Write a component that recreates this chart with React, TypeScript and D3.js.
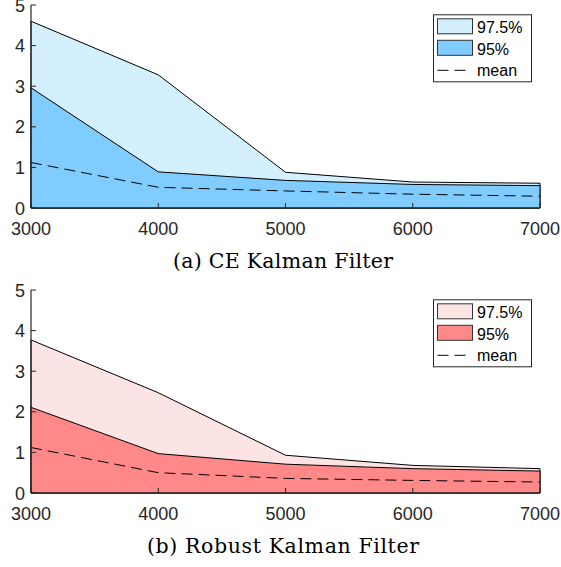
import * as d3 from "d3";

const sampleSizes = [3000, 4000, 5000, 6000, 7000];
const yTicks = [0, 1, 2, 3, 4, 5];
const legendLabels = ["97.5%", "95%", "mean"];

// CE Kalman filter
const ceUpper975 = [4.6, 3.28, 0.88, 0.64, 0.61];
const ceUpper95 = [2.96, 0.89, 0.68, 0.58, 0.55];
const ceMean = [1.12, 0.51, 0.42, 0.34, 0.29];

// Robust Kalman filter
const rkUpper975 = [3.77, 2.47, 0.93, 0.68, 0.6];
const rkUpper95 = [2.11, 0.97, 0.71, 0.6, 0.54];
const rkMean = [1.12, 0.5, 0.36, 0.31, 0.27];

const axisColor = "#262626";
const sans = "'Liberation Sans', Arial, sans-serif";
const serif = "'DejaVu Serif', 'Liberation Serif', serif";

interface PanelProps {
  top: number; // pixel y of value 5
  bottom: number; // pixel y of value 0
  hi: number[];
  mid: number[];
  mean: number[];
  light: string;
  dark: string;
  caption: string;
  captionY: number;
  captionWidth: number;
}

function Panel({ top, bottom, hi, mid, mean, light, dark, caption, captionY, captionWidth }: PanelProps) {
  const x = d3.scaleLinear().domain([3000, 7000]).range([31, 540]);
  const y = d3.scaleLinear().domain([0, 5]).range([bottom, top]);

  const area = d3
    .area<[number, number]>()
    .x(d => x(d[0]))
    .y0(y(0))
    .y1(d => y(d[1]));
  const line = d3
    .line<[number, number]>()
    .x(d => x(d[0]))
    .y(d => y(d[1]));

  const pts = (vals: number[]) => sampleSizes.map((s, i) => [s, vals[i]] as [number, number]);

  // legend box
  const lx = 433;
  const ly = top + 9.3;

  return (
    <g>
      <path d={area(pts(hi)) + "Z"} fill={light} stroke="#000" strokeWidth={1} strokeLinejoin="round" />
      <path d={area(pts(mid)) + "Z"} fill={dark} stroke="#000" strokeWidth={1} strokeLinejoin="round" />
      <path d={line(pts(mean)) || undefined} fill="none" stroke="#000" strokeWidth={1} strokeDasharray="11,6" />

      {/* left axis */}
      <line x1={x(3000)} x2={x(3000)} y1={y(5)} y2={y(0)} stroke={axisColor} strokeWidth={1.2} />
      {yTicks.map(t => (
        <g key={"y" + t}>
          <line x1={x(3000)} x2={x(3000) + 5} y1={y(t)} y2={y(t)} stroke={axisColor} strokeWidth={1} />
          <text x={x(3000) - 6} y={y(t) + 6.5} textAnchor="end" fontFamily={sans} fontSize={18} fill={axisColor}>
            {t}
          </text>
        </g>
      ))}

      {/* bottom axis */}
      <line x1={x(3000)} x2={x(7000)} y1={y(0)} y2={y(0)} stroke={axisColor} strokeWidth={1.2} />
      {sampleSizes.map(s => (
        <g key={"x" + s}>
          <line x1={x(s)} x2={x(s)} y1={y(0)} y2={y(0) - 5} stroke={axisColor} strokeWidth={1} />
          <text x={x(s)} y={y(0) + 27} textAnchor="middle" fontFamily={sans} fontSize={18} fill={axisColor}>
            {s}
          </text>
        </g>
      ))}

      {/* legend */}
      <rect x={lx + 0.5} y={ly + 0.5} width={98} height={67} fill="#fff" stroke={axisColor} strokeWidth={1} />
      <rect x={lx + 4.5} y={ly + 4.5} width={35} height={15} fill={light} stroke="#333" strokeWidth={1} />
      <rect x={lx + 4.5} y={ly + 26} width={35} height={15} fill={dark} stroke="#333" strokeWidth={1} />
      <line x1={lx + 4.5} x2={lx + 36} y1={ly + 56} y2={ly + 56} stroke="#000" strokeWidth={1} strokeDasharray="11,6" />
      {legendLabels.map((l, i) => (
        <text key={l} x={lx + 44} y={ly + 19 + i * 21.4} fontFamily={sans} fontSize={16} fill="#000">
          {l}
        </text>
      ))}

      <text
        x={283}
        y={captionY}
        textAnchor="middle"
        fontFamily={serif}
        fontSize={20.5}
        textLength={captionWidth}
        lengthAdjust="spacing"
        fill="#000"
      >
        {caption}
      </text>
    </g>
  );
}

export default function App() {
  return (
    <svg width={561} height={567} style={{ position: "absolute", left: 0, top: 0, background: "#fff" }}>
      <rect width={561} height={567} fill="#fff" />
      <Panel
        top={5}
        bottom={208}
        hi={ceUpper975}
        mid={ceUpper95}
        mean={ceMean}
        light="#d4effd"
        dark="#80ccff"
        caption="(a) CE Kalman Filter"
        captionY={268}
        captionWidth={220}
      />
      <Panel
        top={290}
        bottom={493}
        hi={rkUpper975}
        mid={rkUpper95}
        mean={rkMean}
        light="#fde4e4"
        dark="#ff8888"
        caption="(b) Robust Kalman Filter"
        captionY={553}
        captionWidth={272}
      />
    </svg>
  );
}
